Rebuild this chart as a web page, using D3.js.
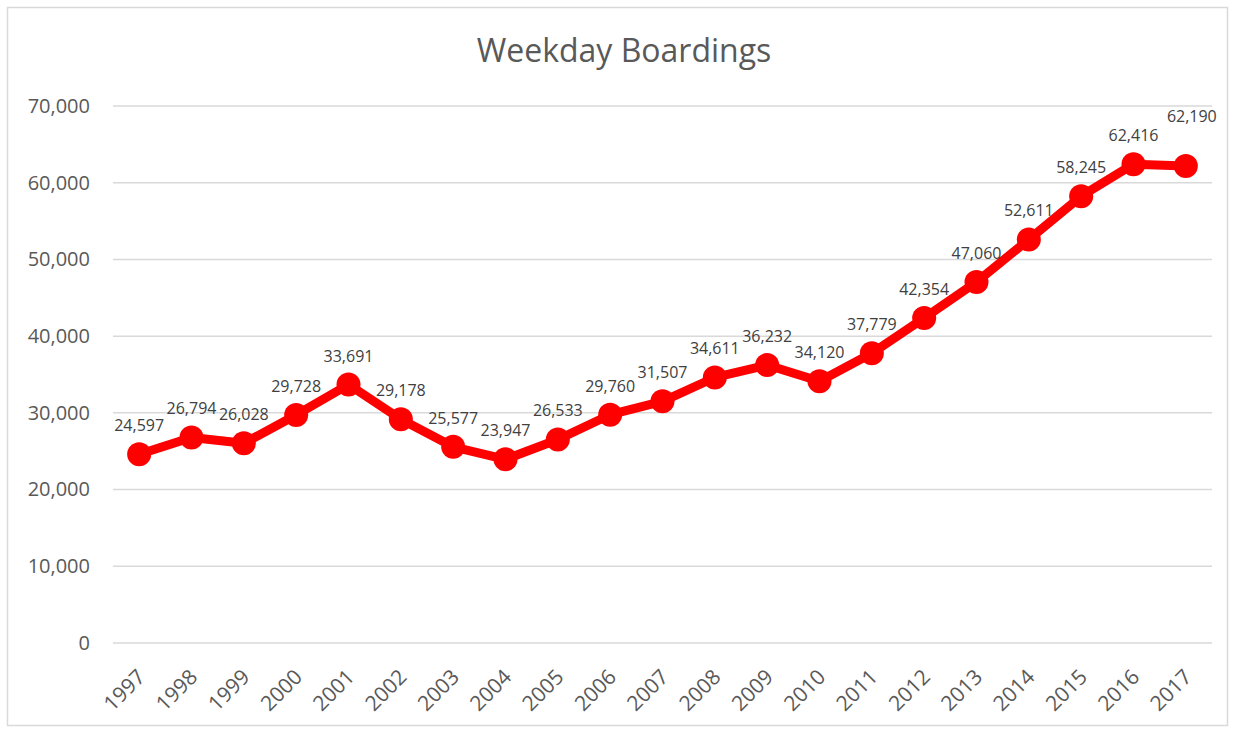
<!DOCTYPE html>
<html>
<head>
<meta charset="utf-8">
<script src="https://cdn.jsdelivr.net/npm/d3@7"></script>
<style>
  body { margin: 0; background: #fff; }
  text { font-family: "Open Sans", "Noto Sans", sans-serif; }
</style>
</head>
<body>
<svg id="chart"></svg>
<script>
const years = ['1997','1998','1999','2000','2001','2002','2003','2004','2005','2006','2007',
  '2008','2009','2010','2011','2012','2013','2014','2015','2016','2017']
const boardings = [24597, 26794, 26028, 29728, 33691, 29178, 25577, 23947, 26533, 29760, 31507,
  34611, 36232, 34120, 37779, 42354, 47060, 52611, 58245, 62416, 62190]
const yTicks = [0, 10000, 20000, 30000, 40000, 50000, 60000, 70000]

const width = 1234
const height = 732
const margin = { top: 106, right: 22, bottom: 89, left: 113 }
const font = '"Open Sans", "Noto Sans", sans-serif'

const svg = d3.select('#chart')
  .attr('width', width)
  .attr('height', height)

// chart area frame
svg.append('rect')
  .attr('x', 7.5).attr('y', 7.5)
  .attr('width', width - 14).attr('height', height - 14)
  .attr('fill', '#fff')
  .attr('stroke', '#d9d9d9')
  .attr('stroke-width', 1.5)

svg.append('text')
  .attr('x', 624).attr('y', 62)
  .attr('text-anchor', 'middle')
  .attr('font-size', 32)
  .attr('fill', '#595959')
  .text('Weekday Boardings')

const x = d3.scaleBand()
  .domain(years)
  .range([margin.left, width - margin.right])

const y = d3.scaleLinear()
  .domain([0, 70000])
  .range([height - margin.bottom, margin.top])

const fmt = d3.format(',')

// gridlines
svg.append('g')
  .selectAll('line')
  .data(yTicks)
  .join('line')
  .attr('x1', margin.left).attr('x2', width - margin.right)
  .attr('y1', d => y(d)).attr('y2', d => y(d))
  .attr('stroke', '#d9d9d9')
  .attr('stroke-width', 1.5)

// y axis labels
const yAxis = svg.append('g')
  .attr('transform', `translate(${margin.left},0)`)
  .call(d3.axisLeft(y).tickValues(yTicks).tickFormat(fmt).tickSize(0).tickPadding(23))
yAxis.select('.domain').remove()
yAxis.selectAll('text')
  .attr('font-size', 20)
  .attr('fill', '#595959')
  .style('font-family', font)

// x axis labels
const xAxis = svg.append('g')
  .attr('transform', `translate(0,${height - margin.bottom})`)
  .call(d3.axisBottom(x).tickSize(0).tickPadding(0))
xAxis.select('.domain').remove()
xAxis.selectAll('text')
  .attr('font-size', 21)
  .attr('fill', '#595959')
  .style('font-family', font)
  .attr('text-anchor', 'end')
  .attr('y', 0)
  .attr('dy', '0.35em')
  .attr('transform', 'translate(2,30) rotate(-45)')

const cx = d => x(d) + x.bandwidth() / 2

const line = d3.line()
  .x((d, i) => cx(years[i]))
  .y(d => y(d))

svg.append('path')
  .datum(boardings)
  .attr('d', line)
  .attr('fill', 'none')
  .attr('stroke', '#ff0000')
  .attr('stroke-width', 9)
  .attr('stroke-linejoin', 'round')

svg.append('g')
  .selectAll('circle')
  .data(boardings)
  .join('circle')
  .attr('cx', (d, i) => cx(years[i]))
  .attr('cy', d => y(d))
  .attr('r', 12)
  .attr('fill', '#ff0000')

// data labels, the last one is nudged up by Excel to avoid its neighbour
svg.append('g')
  .selectAll('text')
  .data(boardings)
  .join('text')
  .attr('x', (d, i) => cx(years[i]) + (i === boardings.length - 1 ? 6 : 0))
  .attr('y', (d, i) => y(d) - (i === boardings.length - 1 ? 44 : 23))
  .attr('text-anchor', 'middle')
  .attr('font-size', 16)
  .attr('fill', '#404040')
  .text(d => fmt(d))
</script>
</body>
</html>
